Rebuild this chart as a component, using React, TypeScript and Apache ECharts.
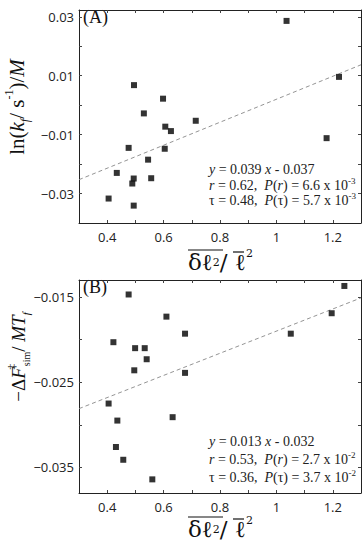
import React, { useEffect, useRef } from "react";
import * as echarts from "echarts";

// Panel A: ln(k_f / s^-1)/M vs relative variance
const xValsA = [1.036, 1.222, 0.495, 0.598, 0.53, 0.714, 0.606, 0.626, 1.178, 0.476, 0.604, 0.545, 0.434, 0.494, 0.556, 0.489, 0.405, 0.494];
const yValsA = [0.0286, 0.0096, 0.0068, 0.0022, -0.0028, -0.0053, -0.0073, -0.0088, -0.0112, -0.0145, -0.0148, -0.0185, -0.023, -0.0249, -0.0248, -0.0266, -0.0317, -0.0341];
// Panel B: -dF_sim / M T_f
const xValsB = [1.241, 0.476, 1.196, 0.61, 0.676, 1.051, 0.422, 0.499, 0.533, 0.54, 0.496, 0.676, 0.405, 0.632, 0.436, 0.431, 0.457, 0.56];
const yValsB = [-0.0137, -0.0147, -0.0169, -0.0173, -0.0193, -0.0193, -0.0203, -0.021, -0.021, -0.0223, -0.0236, -0.0239, -0.0275, -0.0291, -0.0295, -0.0326, -0.0341, -0.0364];

// printed regression lines
const fitA = { slope: 0.039, intercept: -0.037 };
const fitB = { slope: 0.013, intercept: -0.032 };

const xRange = [0.3, 1.3];
const yRangeA = [-0.04, 0.0323];
const yRangeB = [-0.038, -0.013];

const xTickLabels = [0.4, 0.6, 0.8, 1, 1.2];
const xTicks = [0.4, 0.5, 0.6, 0.7, 0.8, 0.9, 1.0, 1.1, 1.2];
const yTickLabelsA = [-0.03, -0.01, 0.01, 0.03];
const yTicksA = [-0.03, -0.02, -0.01, 0, 0.01, 0.02, 0.03];
const yTickLabelsB = [-0.035, -0.025, -0.015];
const yTicksB = [-0.035, -0.03, -0.025, -0.02, -0.015];

const statsA = [
  "{i|y} = 0.039 {i|x} - 0.037",
  "{i|r} = 0.62,  {i|P}({i|r}) = 6.6 x 10{sp|-3}",
  "τ = 0.48,  {i|P}(τ) = 5.7 x 10{sp|-3}",
];
const statsB = [
  "{i|y} = 0.013 {i|x} - 0.032",
  "{i|r} = 0.53,  {i|P}({i|r}) = 2.7 x 10{sp|-2}",
  "τ = 0.36,  {i|P}(τ) = 3.7 x 10{sp|-2}",
];

const SERIF = "'Liberation Serif', 'DejaVu Serif', serif";
const DSERIF = "'DejaVu Serif', serif";
const SANS = "'Open Sans', 'Liberation Sans', sans-serif";

const GRID_LEFT = 79;
const GRID_W = 282;
const GRID_H = 213;
const TOP_A = 10;
const TOP_B = 280;

function fitLine(f: { slope: number; intercept: number }) {
  return xRange.map((x) => [x, f.slope * x + f.intercept]);
}

const fmtMinus = (v: number) => String(v).replace("-", "\u2212");

function xAxes(gridIndex: number) {
  const line = { show: true, onZero: false, lineStyle: { color: "#222", width: 1 } };
  return [
    {
      type: "value", gridIndex, position: "bottom", min: xRange[0], max: xRange[1],
      axisLine: line, splitLine: { show: false },
      axisTick: { inside: true, length: 3, customValues: xTicks, lineStyle: { color: "#444" } },
      axisLabel: { customValues: xTickLabels, margin: 7, fontFamily: SANS, fontSize: 13, color: "#222" },
    },
    {
      type: "value", gridIndex, position: "top", min: xRange[0], max: xRange[1],
      axisLine: line, splitLine: { show: false },
      axisTick: { inside: true, length: 3, customValues: xTicks, lineStyle: { color: "#444" } },
      axisLabel: { show: false },
    },
  ];
}

function yAxes(gridIndex: number, range: number[], ticks: number[], labels: number[]) {
  const line = { show: true, onZero: false, lineStyle: { color: "#222", width: 1 } };
  return [
    {
      type: "value", gridIndex, position: "left", min: range[0], max: range[1],
      axisLine: line, splitLine: { show: false },
      axisTick: { inside: true, length: 3, customValues: ticks, lineStyle: { color: "#444" } },
      axisLabel: { customValues: labels, margin: 5, fontFamily: SANS, fontSize: 13, color: "#222", formatter: fmtMinus },
    },
    {
      type: "value", gridIndex, position: "right", min: range[0], max: range[1],
      axisLine: line, splitLine: { show: false },
      axisTick: { inside: true, length: 3, customValues: ticks, lineStyle: { color: "#444" } },
      axisLabel: { show: false },
    },
  ];
}

const statRich = {
  i: { fontStyle: "italic", fontFamily: SERIF, fontSize: 14, lineHeight: 18 },
  sp: { fontFamily: SERIF, fontSize: 9, verticalAlign: "top", lineHeight: 18 },
};

function statTexts(lines: string[], ys: number[]) {
  return lines.map((t, k) => ({
    type: "text", left: 209, top: ys[k] - 9,
    style: { text: t, rich: statRich, fontFamily: SERIF, fontSize: 14, lineHeight: 18, fill: "#222" },
  }));
}

function xTitle(dy: number) {
  return [
    {
      type: "text", x: 188, y: 262 + dy,
      style: {
        text: "δℓ{s|2}/ ℓ{u|2}",
        fontFamily: DSERIF, fontSize: 23, lineHeight: 28, fill: "#111",
        align: "left", verticalAlign: "middle",
        rich: {
          s: { fontFamily: DSERIF, fontSize: 11, lineHeight: 28, verticalAlign: "middle" },
          u: { fontFamily: DSERIF, fontSize: 11, lineHeight: 28, verticalAlign: "top" },
        },
      },
    },
    { type: "line", shape: { x1: 188, y1: 250 + dy, x2: 223, y2: 250 + dy }, style: { stroke: "#111", lineWidth: 1.2 } },
    { type: "line", shape: { x1: 233, y1: 252 + dy, x2: 244, y2: 252 + dy }, style: { stroke: "#111", lineWidth: 1.2 } },
  ];
}

export default function App() {
  const ref = useRef<HTMLDivElement>(null);
  useEffect(() => {
    if (!ref.current) return;
    const chart = echarts.init(ref.current, undefined, { renderer: "svg" });
    const option: any = {
      animation: false,
      backgroundColor: "#fff",
      grid: [
        { left: GRID_LEFT, top: TOP_A, width: GRID_W, height: GRID_H },
        { left: GRID_LEFT, top: TOP_B, width: GRID_W, height: GRID_H },
      ],
      xAxis: [...xAxes(0), ...xAxes(1)],
      yAxis: [
        ...yAxes(0, yRangeA, yTicksA, yTickLabelsA),
        ...yAxes(1, yRangeB, yTicksB, yTickLabelsB),
      ],
      series: [
        {
          type: "line", xAxisIndex: 0, yAxisIndex: 0, data: fitLine(fitA), showSymbol: false,
          lineStyle: { color: "#888", width: 0.9, type: [4, 3] }, z: 1,
        },
        {
          type: "scatter", xAxisIndex: 0, yAxisIndex: 0, symbol: "rect", symbolSize: 6,
          itemStyle: { color: "#000" }, data: xValsA.map((x, k) => [x, yValsA[k]]), z: 3,
        },
        {
          type: "line", xAxisIndex: 2, yAxisIndex: 2, data: fitLine(fitB), showSymbol: false,
          lineStyle: { color: "#888", width: 0.9, type: [4, 3] }, z: 1,
        },
        {
          type: "scatter", xAxisIndex: 2, yAxisIndex: 2, symbol: "rect", symbolSize: 6,
          itemStyle: { color: "#000" }, data: xValsB.map((x, k) => [x, yValsB[k]]), z: 3,
        },
      ],
      graphic: [
        { type: "text", left: 83, top: 8, style: { text: "(A)", fontFamily: SERIF, fontSize: 18, fill: "#111" } },
        { type: "text", left: 83, top: 278, style: { text: "(B)", fontFamily: SERIF, fontSize: 18, fill: "#111" } },
        ...statTexts(statsA, [169, 185, 200]),
        ...statTexts(statsB, [441, 459, 477]),
        ...xTitle(0),
        ...xTitle(267),
        {
          type: "text", x: 17, y: 107, rotation: Math.PI / 2,
          style: {
            text: "ln({i|k}{sb|f}/ s{sp|-1})/{i|M}",
            align: "center", verticalAlign: "middle",
            fontFamily: SERIF, fontSize: 21, lineHeight: 28, fill: "#111",
            rich: {
              i: { fontStyle: "italic", fontFamily: SERIF, fontSize: 21, lineHeight: 28 },
              sb: { fontStyle: "italic", fontFamily: SERIF, fontSize: 12, verticalAlign: "bottom", lineHeight: 28 },
              sp: { fontFamily: SERIF, fontSize: 12, verticalAlign: "top", lineHeight: 28 },
            },
          },
        },
        {
          type: "text", x: 18, y: 357, rotation: Math.PI / 2,
          style: {
            text: "\u2212Δ{i|F}{sp|‡}{sb|sim}/ {i|MT}{sbi|f}",
            align: "center", verticalAlign: "middle",
            fontFamily: SERIF, fontSize: 19, lineHeight: 26, fill: "#111",
            rich: {
              i: { fontStyle: "italic", fontFamily: SERIF, fontSize: 19, lineHeight: 26 },
              sp: { fontFamily: SERIF, fontSize: 11, verticalAlign: "top", lineHeight: 26, width: 1 },
              sb: { fontFamily: SERIF, fontSize: 10, verticalAlign: "bottom", lineHeight: 26 },
              sbi: { fontStyle: "italic", fontFamily: SERIF, fontSize: 11, verticalAlign: "bottom", lineHeight: 26 },
            },
          },
        },
      ],
    };
    chart.setOption(option);
    return () => chart.dispose();
  }, []);
  return <div ref={ref} style={{ position: "absolute", left: 0, top: 0, width: 362, height: 545 }} />;
}
